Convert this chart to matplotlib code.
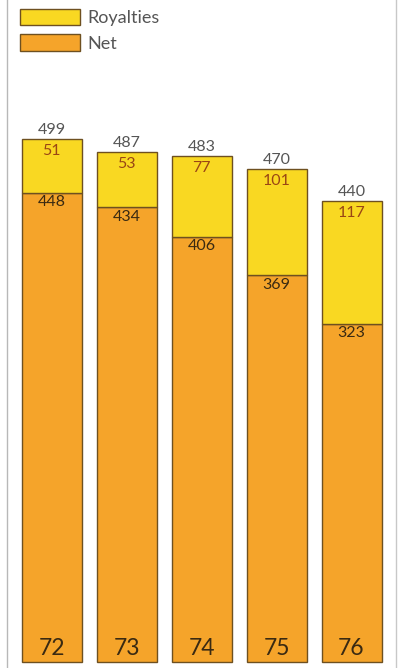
import matplotlib.pyplot as plt
from matplotlib.lines import Line2D

plt.rcParams['font.family'] = ['Lato', 'DejaVu Sans']

years = ['72', '73', '74', '75', '76']
net = [448, 434, 406, 369, 323]
royalties = [51, 53, 77, 101, 117]
totals = [499, 487, 483, 470, 440]

yellow = '#f9d822'
orange = '#f5a42a'
edge = '#6e5020'

fig = plt.figure(figsize=(3.99, 6.68), dpi=100)
ax = fig.add_axes([0, 0, 1, 1])

x = list(range(len(years)))
ax.bar(x, net, width=0.8, color=orange, edgecolor=edge, linewidth=1, label='Net')
ax.bar(x, royalties, width=0.8, bottom=net, color=yellow, edgecolor=edge,
       linewidth=1, label='Royalties')

for i in x:
    ax.annotate(str(totals[i]), (i, totals[i]), xytext=(0, 1.5), textcoords='offset points',
                ha='center', va='bottom', fontsize=11.5, color='#555555')
    ax.annotate(str(royalties[i]), (i, totals[i]), xytext=(0, -3.5), textcoords='offset points',
                ha='center', va='top', fontsize=11.5, color='#9a4614')
    ax.annotate(str(net[i]), (i, net[i]), xytext=(0, -2), textcoords='offset points',
                ha='center', va='top', fontsize=11.5, color='#3a2a12')
    ax.annotate(years[i], (i, 0), xytext=(0, 2), textcoords='offset points',
                ha='center', va='bottom', fontsize=16.5, color='#3a2a12')

ax.set_xlim(-0.687, 4.633)
ax.set_ylim(-5.7, 631.7)
ax.axis('off')

# legend, Royalties on top
h, l = ax.get_legend_handles_labels()
ax.legend(h[::-1], l[::-1], loc='upper left', bbox_to_anchor=(20 / 399, 1 - 9 / 668),
          frameon=False, fontsize=13, handlelength=3.3, handleheight=1.0,
          labelspacing=0.45, handletextpad=0.45, borderpad=0, borderaxespad=0,
          labelcolor='#555555')

# thin grey frame lines at the sides
fig.add_artist(Line2D([7 / 399, 7 / 399], [0, 1], color='#b8b8b8', lw=1))
fig.add_artist(Line2D([396 / 399, 396 / 399], [0, 1], color='#c8c8c8', lw=1))

fig.savefig('out.png', dpi=100)
